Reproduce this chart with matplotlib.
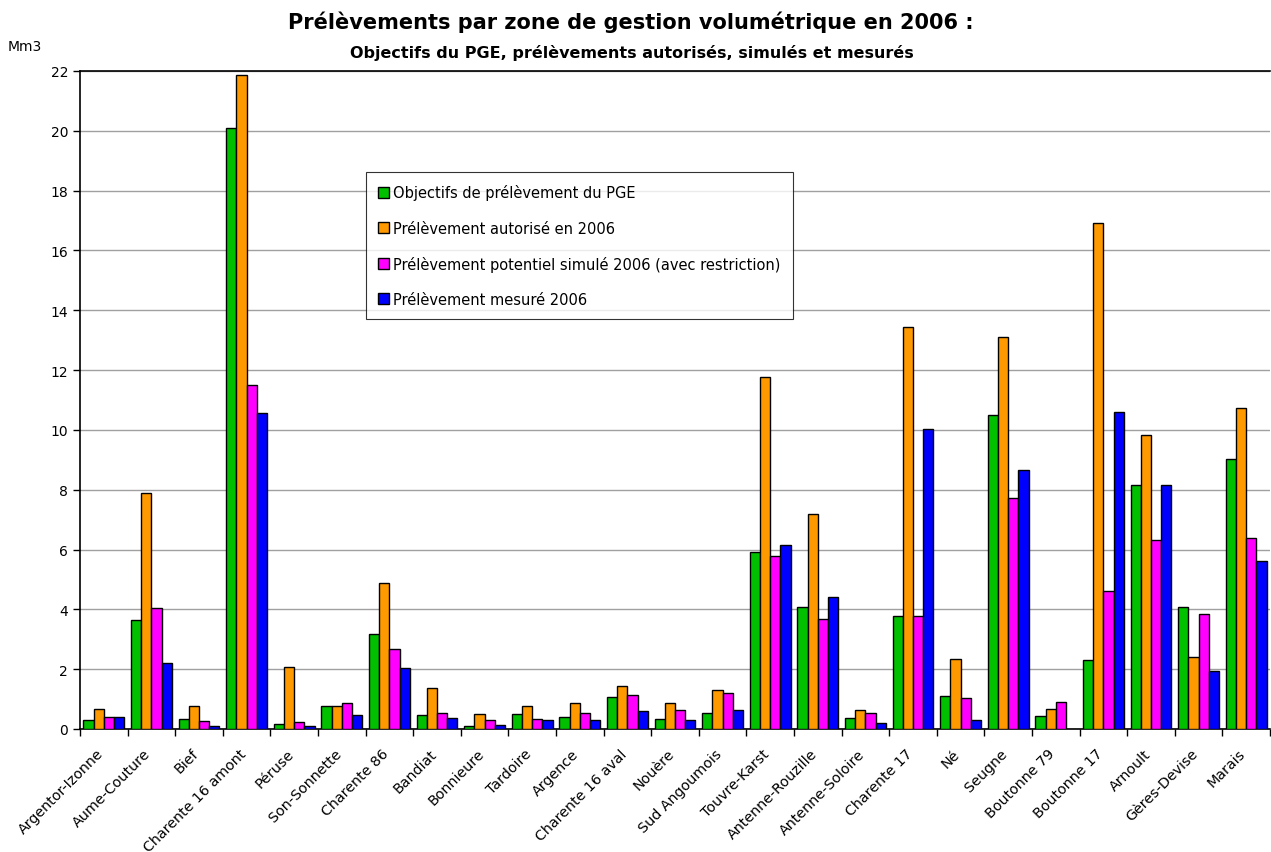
import matplotlib
matplotlib.use("Agg")
import matplotlib.pyplot as plt
import matplotlib.transforms as mtrans
import numpy as np

categories = ["Argentor-Izonne", "Aume-Couture", "Bief", "Charente 16 amont", "Péruse",
              "Son-Sonnette", "Charente 86", "Bandiat", "Bonnieure", "Tardoire", "Argence",
              "Charente 16 aval", "Nouère", "Sud Angoumois", "Touvre-Karst", "Antenne-Rouzille",
              "Antenne-Soloire", "Charente 17", "Né", "Seugne", "Boutonne 79", "Boutonne 17",
              "Arnoult", "Gères-Devise", "Marais"]

objectifs = [0.30, 3.66, 0.35, 20.08, 0.18, 0.78, 3.17, 0.47, 0.11, 0.50, 0.40, 1.07, 0.32,
             0.54, 5.92, 4.09, 0.38, 3.79, 1.09, 10.51, 0.43, 2.32, 8.15, 4.08, 9.04]
autorise = [0.68, 7.90, 0.78, 21.85, 2.07, 0.78, 4.89, 1.37, 0.51, 0.76, 0.86, 1.44, 0.88,
            1.29, 11.76, 7.19, 0.64, 13.44, 2.33, 13.10, 0.67, 16.92, 9.84, 2.42, 10.74]
simule = [0.40, 4.05, 0.28, 11.50, 0.23, 0.86, 2.67, 0.54, 0.29, 0.32, 0.54, 1.15, 0.64,
          1.21, 5.80, 3.69, 0.52, 3.79, 1.05, 7.72, 0.91, 4.63, 6.32, 3.86, 6.40]
mesure = [0.40, 2.21, 0.09, 10.55, 0.09, 0.46, 2.05, 0.37, 0.14, 0.29, 0.29, 0.59, 0.29,
          0.64, 6.15, 4.41, 0.19, 10.02, 0.29, 8.67, None, 10.59, 8.16, 1.94, 5.61]

series = [
    ("Objectifs de prélèvement du PGE", objectifs, "#00c000"),
    ("Prélèvement autorisé en 2006", autorise, "#ff9900"),
    ("Prélèvement potentiel simulé 2006 (avec restriction)", simule, "#ff00ff"),
    ("Prélèvement mesuré 2006", mesure, "#0000ff"),
]

plt.rcParams['font.family'] = ['DejaVu Sans']

fig = plt.figure(figsize=(12.71, 8.53), dpi=100)
ax = fig.add_axes([80/1271, 1-730/853, 1190/1271, (730-72)/853])

x = np.arange(len(categories))
w = 0.214
for i, (name, vals, col) in enumerate(series):
    v = np.array([np.nan if a is None else a for a in vals], dtype=float)
    ax.bar(x + (i - 1.5) * w, v, width=w, color=col, edgecolor="black",
           linewidth=1.0, label=name, zorder=3)

ax.set_xlim(-0.5, len(categories) - 0.5)
ax.set_ylim(0, 22)
ax.set_yticks(np.arange(0, 23, 2))
ax.yaxis.grid(True, color="#a0a0a0", linewidth=1.0, zorder=0)
ax.set_axisbelow(True)

ax.set_xticks(np.arange(len(categories) + 1) - 0.5, minor=False)
ax.set_xticklabels([])
ax.set_xticks(x, minor=True)
labels = ax.set_xticklabels(categories, minor=True, rotation=45, ha="right", va="baseline",
                            rotation_mode="anchor", fontsize=10.3)
shift = mtrans.ScaledTranslation(-5/100, 0, fig.dpi_scale_trans)
for lab in labels:
    lab.set_transform(lab.get_transform() + shift)
ax.tick_params(axis="x", which="minor", length=0, pad=18)
ax.tick_params(axis="x", which="major", length=5, direction="out", width=1)
ax.tick_params(axis="y", length=5, direction="out", width=1, labelsize=10)

for s in ["left", "bottom", "top"]:
    ax.spines[s].set_color("black")
    ax.spines[s].set_linewidth(1.2)
ax.spines["right"].set_visible(False)

fig.text(0.496, 1-22/853, "Prélèvements par zone de gestion volumétrique en 2006 :",
         ha="center", va="center", fontsize=15, fontweight="bold")
fig.text(0.497, 1-53/853, "Objectifs du PGE, prélèvements autorisés, simulés et mesurés",
         ha="center", va="center", fontsize=11.5, fontweight="bold")
fig.text(8/1271, 1-47/853, "Mm3", ha="left", va="center", fontsize=10)

leg = ax.legend(loc="upper left", bbox_to_anchor=((366-80)/1190, 1-(173-72)/658),
                frameon=True, fancybox=False, edgecolor="black", fontsize=10.5,
                handlelength=0.75, handleheight=0.75, handletextpad=0.25,
                labelspacing=1.38, borderpad=0.85, borderaxespad=0)
leg.get_frame().set_linewidth(0.8)

fig.savefig("out.png", dpi=100)
